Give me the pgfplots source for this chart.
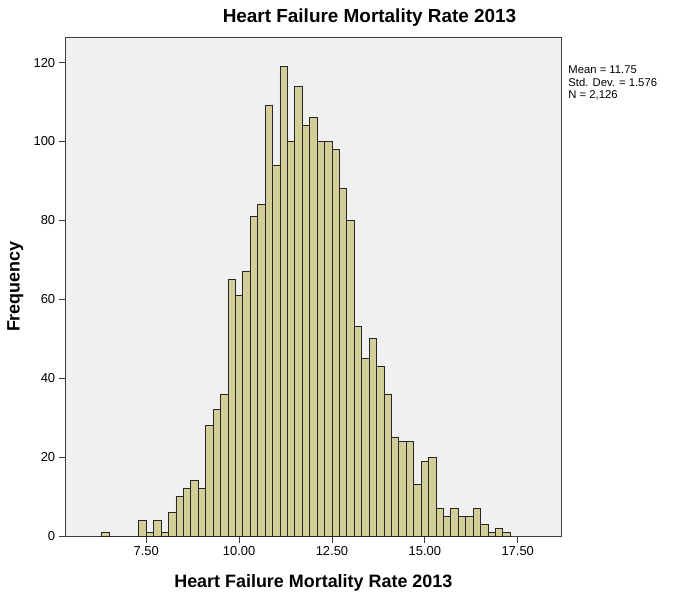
\documentclass[border=0pt]{standalone}
\usepackage{fontspec}
\setmainfont{Liberation Sans}
\usepackage{pgfplots}
\pgfplotsset{compat=1.18}
\definecolor{barfill}{HTML}{D3CE97}
\definecolor{plotbg}{HTML}{F0F0F0}
\definecolor{framecol}{HTML}{3C3C3C}
\begin{document}
\begin{tikzpicture}
\path[use as bounding box] (0,0) rectangle (673bp,593bp);
\begin{axis}[
  at={(65.7bp,57bp)}, anchor=south west,
  scale only axis, width=495.3bp, height=498.7bp,
  xmin=5.332, xmax=18.665, ymin=0, ymax=126.4,
  axis background/.style={fill=plotbg},
  axis line style={framecol, line width=0.9bp},
  xtick={7.5,10,12.5,15,17.5},
  ytick={0,20,40,60,80,100,120},
  xtick pos=bottom, ytick pos=left,
  tick align=outside, major tick length=7bp,
  tick style={framecol, line width=0.9bp},
  /pgf/number format/assume math mode=true,
  xticklabel style={/pgf/number format/.cd, fixed, fixed zerofill, precision=2},
  ticklabel style={font=\fontsize{13}{15}\selectfont},
  title={Heart Failure Mortality Rate 2013},
  title style={font=\fontsize{19}{22}\selectfont\bfseries, at={(axis description cs:0.6134,1)}, anchor=base, yshift=9.3bp},
  xlabel={Heart Failure Mortality Rate 2013},
  xlabel style={font=\fontsize{18}{21}\selectfont\bfseries, at={(axis description cs:0.5,0)}, anchor=base, yshift=-51bp},
  ylabel={Frequency},
  ylabel style={font=\fontsize{18}{21}\selectfont\bfseries, at={(axis description cs:-0.0929,0.5)}, anchor=base},
  clip=false,
]
\addplot[ybar interval, fill=barfill, draw=black!85, line width=0.9bp] coordinates {
(6.3,1) (6.5,0) (6.7,0) (6.9,0) (7.1,0) (7.3,4) (7.5,1) (7.7,4) (7.9,1)
(8.1,6) (8.3,10) (8.5,12) (8.7,14) (8.9,12) (9.1,28) (9.3,32) (9.5,36)
(9.7,65) (9.9,61) (10.1,67) (10.3,81) (10.5,84) (10.7,109) (10.9,94)
(11.1,119) (11.3,100) (11.5,114) (11.7,104) (11.9,106) (12.1,100) (12.3,100)
(12.5,98) (12.7,88) (12.9,80) (13.1,53) (13.3,45) (13.5,50) (13.7,43)
(13.9,36) (14.1,25) (14.3,24) (14.5,24) (14.7,13) (14.9,19) (15.1,20)
(15.3,7) (15.5,5) (15.7,7) (15.9,5) (16.1,5) (16.3,7) (16.5,3) (16.7,1)
(16.9,2) (17.1,1) (17.3,0)
};
\node[anchor=north west, inner sep=0pt, align=left, font=\fontsize{11.3}{12.5}\selectfont]
  at (axis description cs:1.0147,0.9426) {Mean = 11.75\\Std. Dev. = 1.576\\N = 2,126};
\end{axis}
\end{tikzpicture}
\end{document}
